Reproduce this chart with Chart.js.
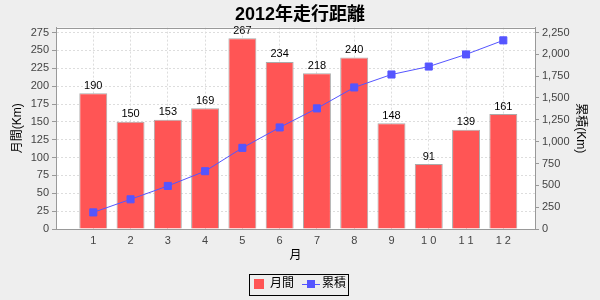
<!DOCTYPE html>
<html>
<head>
<meta charset="utf-8">
<script src="https://cdn.jsdelivr.net/npm/chart.js"></script>
<style>
  html, body { margin: 0; padding: 0; background: #eeeeee; }
  #wrap { width: 600px; height: 300px; }
</style>
</head>
<body>
<div id="wrap"><canvas id="chart" width="600" height="300"></canvas></div>
<script>
// データ
const months = ['1', '2', '3', '4', '5', '6', '7', '8', '9', '1 0', '1 1', '1 2'];
const monthly = [190, 150, 153, 169, 267, 234, 218, 240, 148, 91, 139, 161];
const cumulative = [190, 340, 493, 662, 929, 1163, 1381, 1621, 1769, 1860, 1999, 2160];
const leftTicks = [0, 25, 50, 75, 100, 125, 150, 175, 200, 225, 250, 275];
const rightTicks = [0, 250, 500, 750, 1000, 1250, 1500, 1750, 2000, 2250];

const FONT = '"Liberation Sans", Arial, "Noto Sans CJK JP", sans-serif';
Chart.defaults.font.family = FONT;
Chart.defaults.animation = false;

// 凡例用の線＋四角アイコン
function lineIcon() {
  const c = document.createElement('canvas');
  c.width = 18; c.height = 10;
  const g = c.getContext('2d');
  g.strokeStyle = '#5555ff';
  g.lineWidth = 1;
  g.beginPath(); g.moveTo(0, 5.5); g.lineTo(18, 5.5); g.stroke();
  g.fillStyle = '#5555ff';
  g.fillRect(5, 1, 8, 8);
  return c;
}

// 背景と枠
const bgPlugin = {
  id: 'bg',
  beforeDraw(chart) {
    const { ctx, chartArea: a } = chart;
    ctx.save();
    ctx.fillStyle = '#eeeeee';
    ctx.fillRect(0, 0, chart.width, chart.height);
    ctx.fillStyle = '#ffffff';
    ctx.fillRect(a.left, a.top, a.right - a.left, a.bottom - a.top);
    ctx.restore();
  },
  afterDraw(chart) {
    const { ctx, chartArea: a } = chart;
    ctx.save();
    ctx.strokeStyle = '#999999';
    ctx.lineWidth = 1;
    ctx.strokeRect(Math.round(a.left) + 0.5, Math.round(a.top) + 0.5,
      Math.round(a.right - a.left), Math.round(a.bottom - a.top));
    // 凡例の枠
    const boxes = chart.legend.legendHitBoxes;
    if (boxes && boxes.length) {
      const l = Math.min(...boxes.map(b => b.left)) - 5;
      const r = Math.max(...boxes.map(b => b.left + b.width)) + 2;
      const t = Math.min(...boxes.map(b => b.top)) - 4;
      const btm = Math.max(...boxes.map(b => b.top + b.height)) + 5;
      ctx.strokeStyle = '#000000';
      ctx.strokeRect(Math.round(l) + 0.5, Math.round(t) + 0.5, Math.round(r - l), Math.round(btm - t));
    }
    ctx.restore();
  }
};

// 棒の上の数値
const valuePlugin = {
  id: 'values',
  afterDatasetsDraw(chart) {
    const { ctx } = chart;
    const meta = chart.getDatasetMeta(0);
    ctx.save();
    ctx.font = '11px ' + FONT;
    ctx.fillStyle = '#000000';
    ctx.textAlign = 'center';
    ctx.textBaseline = 'bottom';
    meta.data.forEach((bar, i) => {
      ctx.fillText(String(monthly[i]), bar.x, bar.y - 2);
    });
    ctx.restore();
  }
};

new Chart(document.getElementById('chart'), {
  type: 'bar',
  data: {
    datasets: [{
      type: 'bar',
      label: '月間',
      data: monthly.map((v, i) => ({ x: i + 1, y: v })),
      backgroundColor: '#ff5555',
      borderColor: '#aaaaaa',
      borderWidth: 1,
      categoryPercentage: 0.75,
      barPercentage: 1,
      yAxisID: 'y',
      order: 2
    }, {
      type: 'line',
      label: '累積',
      data: cumulative.map((v, i) => ({ x: i + 1, y: v })),
      borderColor: '#5555ff',
      backgroundColor: '#5555ff',
      borderWidth: 1,
      pointStyle: 'rect',
      pointRadius: 5,
      pointHoverRadius: 5,
      yAxisID: 'y2',
      order: 1
    }]
  },
  options: {
    responsive: false,
    layout: { padding: 0 },
    scales: {
      x: {
        type: 'linear',
        offset: false,
        min: 0,
        max: 12.85,
        afterBuildTicks: s => { s.ticks = months.map((m, i) => ({ value: i + 1 })); },
        afterFit: s => { s.height = 37; },
        ticks: {
          callback: v => months[v - 1],
          color: '#444444',
          font: { size: 11 },
          padding: 5,
          maxRotation: 0,
          autoSkip: false
        },
        grid: { offset: false, color: '#dddddd', borderDash: [2, 2], drawTicks: false },
        border: { color: '#999999', dash: [2, 2] },
        title: { display: true, text: '月', color: '#000000', font: { size: 12 }, padding: { top: 0, bottom: 3 } }
      },
      y: {
        position: 'left',
        min: 0,
        max: 282,
        afterBuildTicks: s => { s.ticks = leftTicks.map(v => ({ value: v })); },
        afterFit: s => { s.width = 56; },
        ticks: { color: '#444444', font: { size: 11 }, padding: 3 },
        grid: { color: '#dddddd', tickColor: '#999999', tickLength: 4, tickBorderDash: [] },
        border: { color: '#999999', dash: [2, 2] },
        title: { display: true, text: '月間(Km)', color: '#000000', font: { size: 12 }, padding: { top: 10, bottom: 0 } }
      },
      y2: {
        position: 'right',
        min: 0,
        max: 2306,
        afterBuildTicks: s => { s.ticks = rightTicks.map(v => ({ value: v })); },
        afterFit: s => { s.width = 65; },
        ticks: { color: '#444444', font: { size: 11 }, padding: 3 },
        grid: { drawOnChartArea: false, tickColor: '#999999', tickLength: 4 },
        border: { color: '#999999' },
        title: { display: true, text: '累積(Km)', color: '#000000', font: { size: 12 }, padding: { top: 12, bottom: 0 } }
      }
    },
    plugins: {
      title: {
        display: true,
        text: '2012年走行距離',
        color: '#000000',
        font: { size: 18, weight: 'bold' },
        padding: { top: 4, bottom: 2 }
      },
      legend: {
        position: 'bottom',
        labels: {
          color: '#000000',
          font: { size: 12 },
          padding: 12,
          boxWidth: 10,
          boxHeight: 10,
          usePointStyle: true,
          generateLabels: chart => [
            { text: '月間', fillStyle: '#ff5555', strokeStyle: '#ff5555', lineWidth: 0, pointStyle: 'rect', datasetIndex: 0 },
            { text: '累積', fillStyle: '#5555ff', strokeStyle: '#5555ff', lineWidth: 0, pointStyle: lineIcon(), datasetIndex: 1 }
          ]
        }
      },
      tooltip: { enabled: false }
    }
  },
  plugins: [bgPlugin, valuePlugin]
});
</script>
</body>
</html>
